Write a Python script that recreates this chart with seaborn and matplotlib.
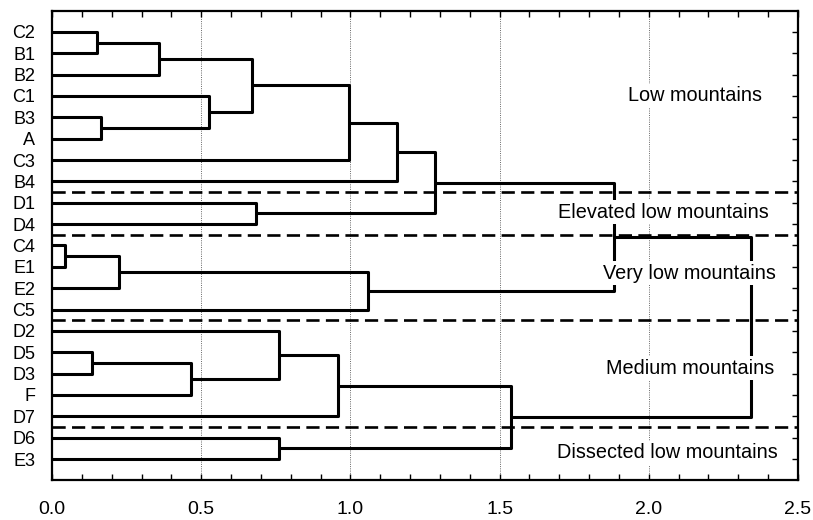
import matplotlib
matplotlib.use('Agg')
import matplotlib.pyplot as plt
from matplotlib.ticker import MultipleLocator
import seaborn as sns
import pandas as pd
import numpy as np

# leaf order, top to bottom
leaves = ['C2', 'B1', 'B2', 'C1', 'B3', 'A', 'C3', 'B4', 'D1', 'D4',
          'C4', 'E1', 'E2', 'C5', 'D2', 'D5', 'D3', 'F', 'D7', 'D6', 'E3']

# merges (children named by leaf or 'm<index>'), linkage distance
merge_left = ['C2', 'm0', 'B3', 'C1', 'm1', 'm4', 'm5', 'D1', 'm6', 'C4',
              'm9', 'm10', 'm8', 'D5', 'm13', 'D2', 'm15', 'D6', 'm16', 'm12']
merge_right = ['B1', 'B2', 'A', 'm2', 'm3', 'C3', 'B4', 'D4', 'm7', 'E1',
               'E2', 'C5', 'm11', 'D3', 'F', 'm14', 'D7', 'E3', 'm17', 'm18']
merge_dist = [0.15, 0.36, 0.165, 0.525, 0.67, 0.995, 1.155, 0.685, 1.285, 0.045,
              0.225, 1.058, 1.883, 0.135, 0.465, 0.762, 0.96, 0.762, 1.538, 2.343]

# group separators (between leaves) and group names
sep_after = ['B4', 'D4', 'C5', 'D7']
group_names = ['Low mountains', 'Elevated low mountains', 'Very low mountains',
               'Medium mountains', 'Dissected low mountains']
group_x = [2.155, 2.05, 2.135, 2.14, 2.062]
group_row = [3.0, 8.45, 11.3, 15.75, 19.7]

# build link segments
pos = {name: (0.0, float(i)) for i, name in enumerate(leaves)}
rows = []
for k, (a, b, d) in enumerate(zip(merge_left, merge_right, merge_dist)):
    xa, ya = pos[a]
    xb, yb = pos[b]
    for px, py in [(xa, ya), (d, ya), (d, yb), (xb, yb)]:
        rows.append({'link': k, 'dist': px, 'row': py})
    pos['m%d' % k] = (d, (ya + yb) / 2)
links = pd.DataFrame(rows)

sns.set_style('white')
plt.rcParams['font.family'] = ['Liberation Sans', 'DejaVu Sans']
plt.rcParams['text.color'] = 'black'
plt.rcParams['xtick.labelcolor'] = 'black'
plt.rcParams['ytick.labelcolor'] = 'black'

fig, ax = plt.subplots(figsize=(8.13, 5.2), dpi=100)
fig.subplots_adjust(left=0.064, right=0.9815, top=0.979, bottom=0.077)

for g in [0.5, 1.0, 1.5, 2.0]:
    ax.axvline(g, color='#666666', lw=0.7, ls=(0, (1, 1.3)), zorder=0)

sns.lineplot(data=links, x='dist', y='row', units='link', estimator=None,
             sort=False, color='black', lw=2.2, ax=ax, legend=False, zorder=2)

for s in sep_after:
    ax.axhline(leaves.index(s) + 0.5, color='black', lw=1.9,
               ls=(0, (5.0, 2.4)), zorder=4)

for name, gx, gy in zip(group_names, group_x, group_row):
    ax.text(gx, gy, name, ha='center', va='center', fontsize=14.3, zorder=3,
            color='black',
            bbox=dict(boxstyle='square,pad=0.12', fc='white', ec='none'))

ax.set_xlim(0, 2.5)
ax.set_ylim(len(leaves) - 0.02, -0.98)
ax.set_yticks(range(len(leaves)))
ax.set_yticklabels(leaves)
ax.xaxis.set_minor_locator(MultipleLocator(0.1))
ax.set_xticks([0, 0.5, 1.0, 1.5, 2.0, 2.5])
ax.set_xticklabels(['0.0', '0.5', '1.0', '1.5', '2.0', '2.5'])
ax.set_xlabel('')
ax.set_ylabel('')

ax.tick_params(axis='x', which='both', direction='in', top=True, bottom=True,
               length=4.5, width=1.0, labelsize=14, pad=15, color='black')
ax.tick_params(axis='y', which='major', direction='in', left=False, right=True,
               length=4.5, width=1.0, labelsize=13, pad=12, color='black')
for sp in ax.spines.values():
    sp.set_color('black')
    sp.set_linewidth(1.6)

plt.savefig('out.png', dpi=100)
